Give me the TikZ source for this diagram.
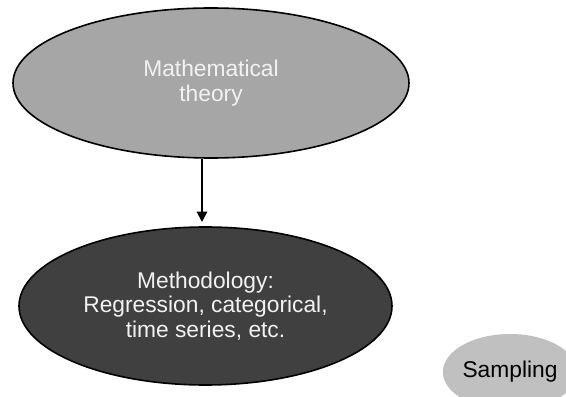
\documentclass[tikz,border=0pt]{standalone}
\usepackage{fontspec}
\setmainfont{Liberation Sans}
\usepackage{tikz}
\usetikzlibrary{shapes.geometric,arrows.meta}

\definecolor{theoryfill}{RGB}{166,166,166}
\definecolor{methodfill}{RGB}{64,64,64}
\definecolor{samplefill}{RGB}{192,192,192}
\definecolor{lighttext}{RGB}{242,242,242}

\tikzset{
  blob/.style={ellipse,inner sep=0pt,align=center,
    font=\fontsize{16.2}{17.6}\selectfont},
  flow/.style={line width=.5mm,-{Triangle[length=2.6mm,width=2.6mm]}}
}

\begin{document}
\begin{tikzpicture}
\useasboundingbox (0,0) rectangle (14.15,9.9);
\node[blob,draw,line width=.4mm,fill=theoryfill,text=lighttext,
  minimum width=9.9cm,minimum height=3.75cm] (theory) at (5.275,7.825)
  {Mathematical\\theory};
\node[blob,draw,line width=.4mm,fill=methodfill,text=lighttext,
  minimum width=9.325cm,minimum height=3.95cm] (method) at (5.1375,2.25)
  {Methodology:\\Regression, categorical,\\time series, etc.};
\node[blob,fill=samplefill,minimum width=3.05cm,minimum height=1.9cm]
  (sampling) at (12.75,0.6) {Sampling};
% arrow from theory down to methodology
\coordinate (tip) at (5.05,4.35);
\draw[flow] (theory.south -| tip) -- (tip);
\end{tikzpicture}
\end{document}
